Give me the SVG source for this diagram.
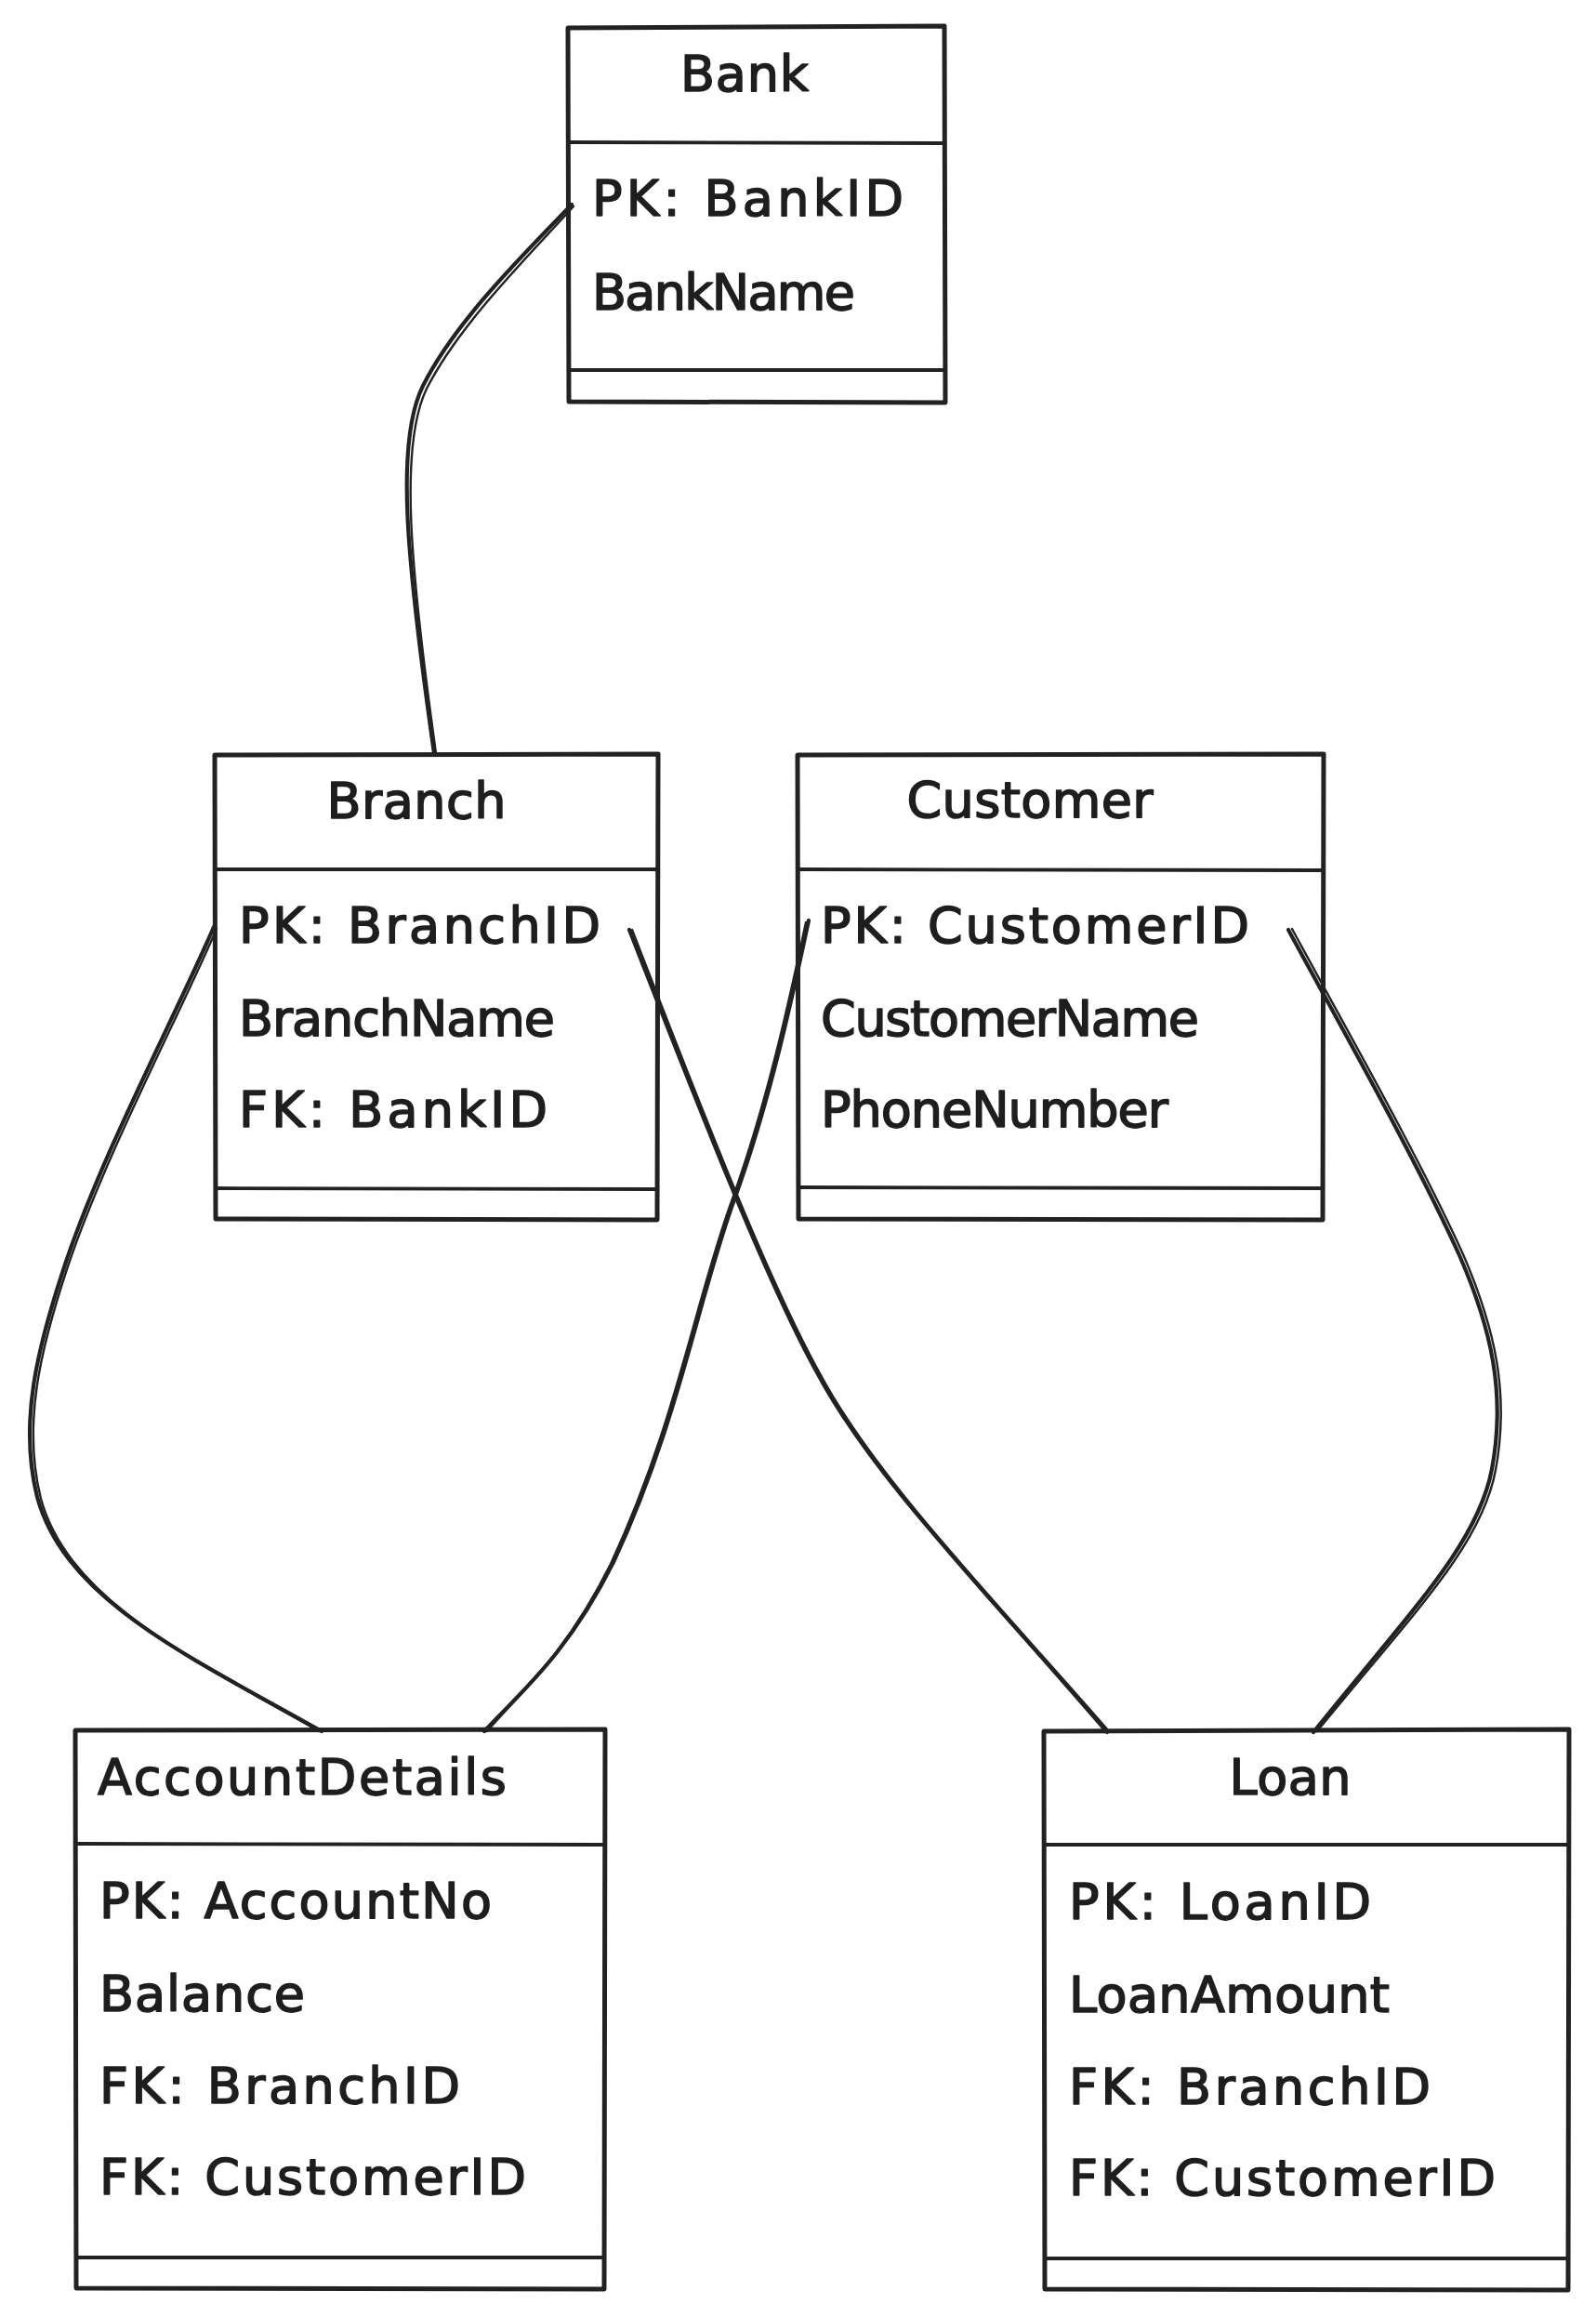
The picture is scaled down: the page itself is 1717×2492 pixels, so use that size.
<svg xmlns="http://www.w3.org/2000/svg" width="1717" height="2492" viewBox="0 0 1717 2492">
<style>
.bx{fill:#fff;stroke:#222;stroke-width:5;stroke-linejoin:round;stroke-linecap:round}
.dv{fill:none;stroke:#222;stroke-width:3.8;stroke-linecap:round}
.c1{fill:none;stroke:#222;stroke-width:4.2;stroke-linecap:round}
.c2{fill:none;stroke:#222;stroke-width:2.4;stroke-linecap:round}
text{font-family:"DejaVu Sans","Liberation Sans",sans-serif;font-size:54px;fill:#1e1e1e;stroke:#1e1e1e;stroke-width:1.6;stroke-linejoin:round}
.t{text-anchor:middle}
</style>
<rect x="0" y="0" width="1717" height="2492" fill="#fff"/>
<g id="Bank">
<path class="bx" d="M611,30 L1016,28 L1017,433 L612,432 Z"/>
<path class="dv" d="M613,153 L1015,154"/>
<path class="dv" d="M613,398 L1015,398"/>
<text class="t" x="801" y="98" textLength="138" lengthAdjust="spacing">Bank</text>
<text x="637" y="232" textLength="335" lengthAdjust="spacing">PK: BankID</text>
<text x="637" y="333" textLength="283" lengthAdjust="spacing">BankName</text>
</g>
<g id="Branch">
<path class="bx" d="M231,812 L708,811 L707,1312 L232,1311 Z"/>
<path class="dv" d="M233,935 L706,935"/>
<path class="dv" d="M233,1278 L706,1279"/>
<text class="t" x="448" y="880" textLength="193" lengthAdjust="spacing">Branch</text>
<text x="257" y="1014" textLength="389" lengthAdjust="spacing">PK: BranchID</text>
<text x="257" y="1114" textLength="340" lengthAdjust="spacing">BranchName</text>
<text x="257" y="1212" textLength="332" lengthAdjust="spacing">FK: BankID</text>
</g>
<g id="Customer">
<path class="bx" d="M858,812 L1424,811 L1423,1312 L859,1311 Z"/>
<path class="dv" d="M860,935 L1422,936"/>
<path class="dv" d="M860,1277 L1422,1278"/>
<text class="t" x="1108" y="879" textLength="265" lengthAdjust="spacing">Customer</text>
<text x="883" y="1014" textLength="461" lengthAdjust="spacing">PK: CustomerID</text>
<text x="883" y="1114" textLength="407" lengthAdjust="spacing">CustomerName</text>
<text x="883" y="1212" textLength="374" lengthAdjust="spacing">PhoneNumber</text>
</g>
<g id="AccountDetails">
<path class="bx" d="M81,1861 L651,1860 L650,2462 L82,2461 Z"/>
<path class="dv" d="M83,1983 L649,1984"/>
<path class="dv" d="M83,2428 L649,2428"/>
<text x="105" y="1930" textLength="440" lengthAdjust="spacing">AccountDetails</text>
<text x="107" y="2063" textLength="422" lengthAdjust="spacing">PK: AccountNo</text>
<text x="107" y="2163" textLength="221" lengthAdjust="spacing">Balance</text>
<text x="107" y="2262" textLength="388" lengthAdjust="spacing">FK: BranchID</text>
<text x="107" y="2360" textLength="459" lengthAdjust="spacing">FK: CustomerID</text>
</g>
<g id="Loan">
<path class="bx" d="M1123,1862 L1688,1860 L1687,2463 L1124,2462 Z"/>
<path class="dv" d="M1125,1984 L1686,1984"/>
<path class="dv" d="M1125,2429 L1686,2429"/>
<text class="t" x="1388" y="1930" textLength="131" lengthAdjust="spacing">Loan</text>
<text x="1150" y="2064" textLength="325" lengthAdjust="spacing">PK: LoanID</text>
<text x="1150" y="2164" textLength="345" lengthAdjust="spacing">LoanAmount</text>
<text x="1150" y="2263" textLength="389" lengthAdjust="spacing">FK: BranchID</text>
<text x="1150" y="2361" textLength="459" lengthAdjust="spacing">FK: CustomerID</text>
</g>
<g id="connectors">
<path class="c1" d="M615,220 C565,272 490,345 455,415 C425,475 437,600 467,810"/>
<path class="c2" d="M617,222 C568,276 494,349 459,418 C430,478 440,602 469,810"/>
<path class="c1" d="M230,997 C190,1090 110,1240 70,1360 C40,1450 20,1530 40,1610 C70,1720 200,1780 346,1862"/>
<path class="c2" d="M233,999 C193,1092 113,1243 73,1362 C43,1452 24,1532 44,1612 C74,1720 203,1782 343,1862"/>
<path class="c1" d="M677,1000 C740,1160 820,1370 880,1478 C940,1590 1060,1710 1191,1863"/>
<path class="c2" d="M680,1000 C743,1162 823,1372 883,1479 C943,1590 1062,1712 1193,1862"/>
<path class="c1" d="M870,990 C855,1060 830,1180 790,1290 C750,1400 730,1530 660,1680 C610,1780 560,1820 521,1862"/>
<path class="c2" d="M867,992 C852,1062 827,1182 787,1292 C747,1402 727,1532 657,1682 C607,1782 558,1822 524,1862"/>
<path class="c1" d="M1386,1000 C1440,1100 1520,1240 1570,1350 C1605,1430 1620,1500 1605,1580 C1590,1660 1520,1730 1413,1863"/>
<path class="c2" d="M1390,999 C1444,1099 1524,1239 1574,1349 C1609,1430 1624,1500 1609,1581 C1594,1662 1523,1732 1417,1862"/>
</g>
</svg>
